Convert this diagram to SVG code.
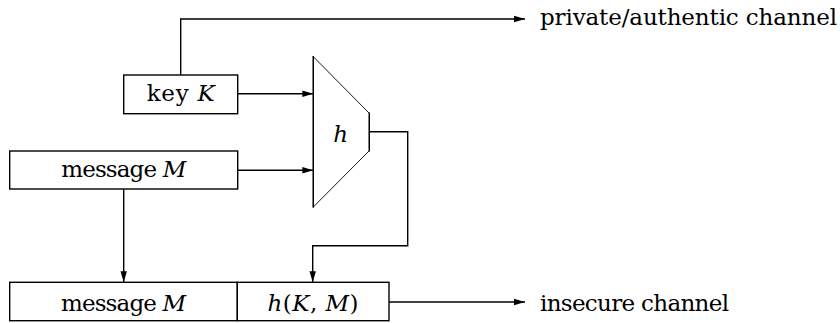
<svg xmlns="http://www.w3.org/2000/svg" width="840" height="323" viewBox="0 0 840 323">
<style>
  .box { fill: #fff; stroke: #000; stroke-width: 1.4; }
  .edge { fill: none; stroke: #000; stroke-width: 1.4; }
  .thin { fill: #fff; stroke: #000; stroke-width: 0.9; }
  text { font-family: 'DejaVu Serif', 'Liberation Serif', serif; font-size: 23px; fill: #000; }
  .i { font-style: italic; }
</style>
<defs>
  <marker id="arr" markerUnits="userSpaceOnUse" markerWidth="12" markerHeight="8" refX="11" refY="4" orient="auto">
    <path d="M0,0.8 L11,4 L0,7.2 Z" fill="#000"/>
  </marker>
</defs>
<rect width="840" height="323" fill="#fff"/>
<g id="connectors">
  <path class="edge" d="M180.7 75 V19 H525" marker-end="url(#arr)"/>
  <path class="edge" d="M237.7 93.7 H313.3" marker-end="url(#arr)"/>
  <path class="edge" d="M237.7 170.3 H313.3" marker-end="url(#arr)"/>
  <path class="edge" d="M369.3 131.7 H407.7 V245.7 H312.7 V282.3" marker-end="url(#arr)"/>
  <path class="edge" d="M123.7 189 V282.3" marker-end="url(#arr)"/>
  <path class="edge" d="M389 302 H525" marker-end="url(#arr)"/>
</g>
<g id="key">
  <rect class="box" x="123.7" y="75" width="114" height="38.7"/>
  <text x="180.7" y="100.5" text-anchor="middle" textLength="68">key <tspan class="i">K</tspan></text>
</g>
<g id="message-top">
  <rect class="box" x="9.7" y="151" width="228" height="38"/>
  <text x="123.7" y="176.5" text-anchor="middle" textLength="125">message <tspan class="i">M</tspan></text>
</g>
<g id="hash">
  <polygon class="thin" points="313.3,56.7 369.3,113.3 369.3,150.7 313.3,207"/>
  <line class="edge" x1="313.3" y1="56" x2="313.3" y2="207.7"/>
  <line class="edge" x1="369.3" y1="112.6" x2="369.3" y2="151.4"/>
  <text class="i" x="340.7" y="141.5" text-anchor="middle">h</text>
</g>
<g id="message-bottom">
  <rect class="box" x="9.7" y="282.3" width="227.6" height="38.4"/>
  <text x="123.5" y="310.7" text-anchor="middle" textLength="125">message <tspan class="i">M</tspan></text>
</g>
<g id="mac">
  <rect class="box" x="237.3" y="282.3" width="151.7" height="38.4"/>
  <text x="313" y="310.7" text-anchor="middle" textLength="91"><tspan class="i">h</tspan>(<tspan class="i">K</tspan>, <tspan class="i">M</tspan>)</text>
</g>
<g id="private-channel">
  <text x="540" y="25" textLength="297">private/authentic channel</text>
</g>
<g id="insecure-channel">
  <text x="540" y="311" textLength="189">insecure channel</text>
</g>
</svg>
